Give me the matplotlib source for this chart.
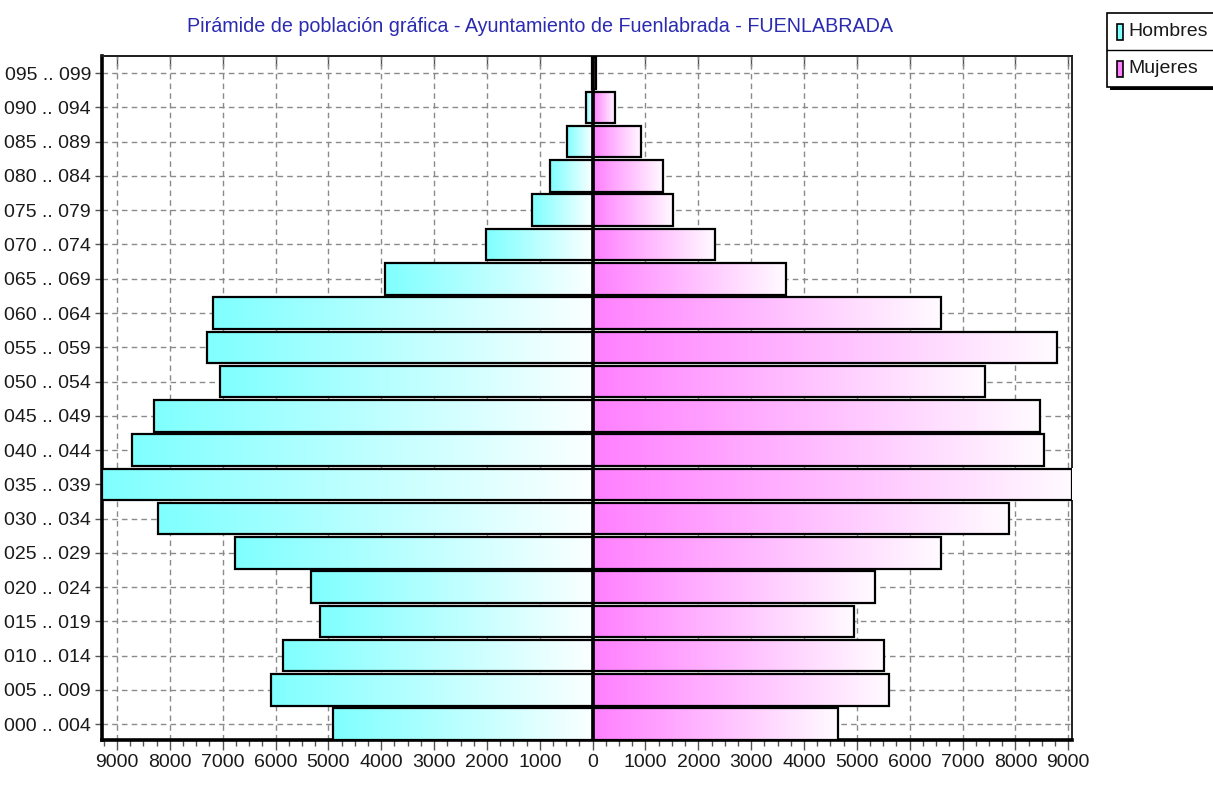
import numpy as np
import matplotlib
matplotlib.use("Agg")
import matplotlib.pyplot as plt
from matplotlib import font_manager
from matplotlib.patches import Rectangle
from matplotlib.lines import Line2D
from matplotlib.ticker import MultipleLocator, FixedLocator

# ---------------- data ----------------
age_groups = ["000 .. 004", "005 .. 009", "010 .. 014", "015 .. 019", "020 .. 024",
              "025 .. 029", "030 .. 034", "035 .. 039", "040 .. 044", "045 .. 049",
              "050 .. 054", "055 .. 059", "060 .. 064", "065 .. 069", "070 .. 074",
              "075 .. 079", "080 .. 084", "085 .. 089", "090 .. 094", "095 .. 099"]
hombres = [4920, 6095, 5855, 5160, 5335, 6767, 8230, 9284, 8722, 8305,
           7057, 7300, 7185, 3935, 2020, 1145, 810, 490, 130, 10]
mujeres = [4642, 5613, 5519, 4951, 5343, 6592, 7884, 9071, 8547, 8471,
           7430, 8787, 6592, 3655, 2310, 1530, 1340, 920, 420, 60]
x_ticks = list(range(-9000, 9001, 1000))
x_ticklabels = [str(abs(v)) for v in x_ticks]
title = "Pirámide de población gráfica - Ayuntamiento de Fuenlabrada - FUENLABRADA"
series_names = ["Hombres", "Mujeres"]

# ---------------- fonts ----------------
available = {f.name for f in font_manager.fontManager.ttflist}
if "Liberation Sans Narrow" in available:
    FONT = ["Liberation Sans Narrow", "DejaVu Sans"]
    FS = 15.5
    TFS = 15
else:
    FONT = ["Liberation Sans", "DejaVu Sans"]
    FS = 14
    TFS = 14.2
plt.rcParams["font.family"] = FONT

W, H = 1213, 785
fig = plt.figure(figsize=(W / 100, H / 100), dpi=100)
fig.patch.set_facecolor("white")

ax_l, ax_r, ax_t, ax_b = 102, 1072, 56, 740
ax = fig.add_axes([ax_l / W, 1 - ax_b / H, (ax_r - ax_l) / W, (ax_b - ax_t) / H])

y = np.arange(len(age_groups))
bar_h = 0.92
CYAN = np.array([0.50, 1.00, 1.00])
MAGENTA = np.array([1.00, 0.50, 1.00])
WHITE = np.array([1.0, 1.0, 1.0])


def gradient(c_left, c_right, n=256):
    t = np.linspace(0, 1, n)[None, :, None]
    return c_left[None, None, :] * (1 - t) + c_right[None, None, :] * t


men_bars = ax.barh(y, [-v for v in hombres], height=bar_h, facecolor="none",
                   edgecolor="black", linewidth=1.6, zorder=4)
women_bars = ax.barh(y, mujeres, height=bar_h, facecolor="none",
                     edgecolor="black", linewidth=1.6, zorder=4)

for p in men_bars.patches:
    x0, w = p.get_x(), p.get_width()
    xa, xb = min(x0, x0 + w), max(x0, x0 + w)
    ax.imshow(gradient(CYAN, WHITE * 0.97 + CYAN * 0.03), extent=(xa, xb, p.get_y(), p.get_y() + p.get_height()),
              aspect="auto", interpolation="bilinear", zorder=3)
for p in women_bars.patches:
    x0, w = p.get_x(), p.get_width()
    xa, xb = min(x0, x0 + w), max(x0, x0 + w)
    ax.imshow(gradient(MAGENTA, WHITE * 0.97 + MAGENTA * 0.03), extent=(xa, xb, p.get_y(), p.get_y() + p.get_height()),
              aspect="auto", interpolation="bilinear", zorder=3)

ax.axvline(0, color="black", linewidth=2.6, zorder=5)

ax.set_xlim(-max(hombres), max(mujeres))
ax.set_ylim(-0.46, len(age_groups) - 0.5)

ax.xaxis.set_major_locator(FixedLocator(x_ticks))
ax.set_xticklabels(x_ticklabels)
ax.xaxis.set_minor_locator(MultipleLocator(250))
ax.set_yticks(y)
ax.set_yticklabels(age_groups)

ax.tick_params(axis="x", which="major", direction="out", length=7, width=1, color="#555555",
               labelsize=FS, pad=3)
ax.tick_params(axis="x", which="minor", direction="out", length=4, width=1, color="#555555")
ax.tick_params(axis="y", which="major", direction="out", length=5, width=1, color="#555555",
               labelsize=FS, pad=3)
for lab in ax.get_xticklabels() + ax.get_yticklabels():
    lab.set_color("#1a1a1a")

# inward ticks along the top edge
top = ax.secondary_xaxis("top")
top.set_xticks(x_ticks)
top.tick_params(direction="in", length=7, width=1, color="#555555", labeltop=False)
top.spines["top"].set_linewidth(1.4)

ax.grid(True, which="major", axis="both", color="#8a8a8a", linestyle=(0, (4, 3)), linewidth=1.0)
ax.set_axisbelow(True)

for side in ["left", "bottom"]:
    ax.spines[side].set_linewidth(2.6)
for side in ["top", "right"]:
    ax.spines[side].set_linewidth(1.4)
    ax.spines[side].set_color("#222222")

# title
fig.text(540 / W, 1 - 26 / H, title, ha="center", va="center", color="#2b2bb0", fontsize=TFS)

# legend (manual, top right, partially cut off)
lx0, ly0, lx1, ly1 = 1107, 13, 1222, 87
fig.patches.append(Rectangle(((lx0 + 3) / W, 1 - (ly1 + 3) / H), (lx1 - lx0) / W, (ly1 - ly0) / H,
                             transform=fig.transFigure, facecolor="black", edgecolor="none", zorder=1))
fig.patches.append(Rectangle((lx0 / W, 1 - ly1 / H), (lx1 - lx0) / W, (ly1 - ly0) / H,
                             transform=fig.transFigure, facecolor="white", edgecolor="black",
                             linewidth=1.2, zorder=2))
mid = (ly0 + ly1) / 2
fig.lines.append(Line2D([lx0 / W, lx1 / W], [1 - mid / H, 1 - mid / H], transform=fig.transFigure,
                        color="black", linewidth=1.0, zorder=3))
for i, (name, col) in enumerate(zip(series_names, [CYAN, MAGENTA])):
    cy = ly0 + (i + 0.5) * (ly1 - ly0) / 2
    fig.patches.append(Rectangle((1117 / W, 1 - (cy + 8) / H), 6 / W, 16 / H, transform=fig.transFigure,
                                 facecolor=col, edgecolor="black", linewidth=1.2, zorder=3))
    fig.text(1128 / W, 1 - cy / H, name, ha="left", va="center", fontsize=FS, color="#1a1a1a", zorder=4)

fig.savefig("out.png", dpi=100)
